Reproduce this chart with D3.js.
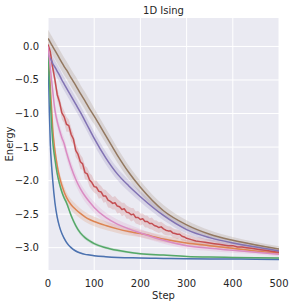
<!DOCTYPE html>
<html>
<head>
<meta charset="utf-8">
<script src="https://cdn.jsdelivr.net/npm/d3@7"></script>
<style>
  body { margin: 0; background: #fff; }
  text { font-family: "DejaVu Sans", sans-serif; fill: #262626; }
</style>
</head>
<body>
<svg width="292" height="307"></svg>
<script>
// shared step grid for the smooth runs
var steps = [0, 3, 5, 8, 10, 15, 20, 25, 30, 35, 40, 50, 60, 70, 80, 90, 100, 125, 150, 175, 200, 250, 300, 350, 400, 450, 500];

var blue   = [0, -1.0, -1.45, -1.80, -1.98, -2.33, -2.55, -2.69, -2.79, -2.86, -2.92, -3.00, -3.05, -3.08, -3.10, -3.11, -3.12, -3.135, -3.145, -3.15, -3.155, -3.16, -3.165, -3.168, -3.17, -3.172, -3.175];
var orange = [0, -0.38, -0.6, -0.95, -1.2, -1.55, -1.78, -1.95, -2.07, -2.17, -2.25, -2.36, -2.43, -2.49, -2.54, -2.58, -2.61, -2.67, -2.72, -2.76, -2.79, -2.87, -2.93, -2.97, -3.01, -3.05, -3.08];
var green  = [0, -0.5, -0.8, -1.2, -1.4, -1.68, -1.90, -2.05, -2.17, -2.26, -2.33, -2.52, -2.67, -2.78, -2.85, -2.90, -2.94, -3.00, -3.04, -3.07, -3.09, -3.11, -3.13, -3.14, -3.145, -3.15, -3.155];
var purple = [-0.12, -0.16, -0.18, -0.22, -0.25, -0.31, -0.37, -0.43, -0.50, -0.56, -0.62, -0.74, -0.86, -0.98, -1.11, -1.24, -1.37, -1.66, -1.90, -2.08, -2.24, -2.52, -2.73, -2.85, -2.93, -2.99, -3.05];
var brown  = [0.12, 0.085, 0.06, 0.025, 0.0, -0.06, -0.12, -0.18, -0.24, -0.30, -0.35, -0.47, -0.58, -0.70, -0.81, -0.93, -1.04, -1.33, -1.62, -1.88, -2.10, -2.45, -2.66, -2.80, -2.89, -2.96, -3.02];
var pink   = [0, -0.18, -0.32, -0.52, -0.65, -0.95, -1.12, -1.25, -1.36, -1.45, -1.58, -1.80, -1.98, -2.12, -2.23, -2.32, -2.40, -2.55, -2.65, -2.72, -2.78, -2.89, -2.97, -3.01, -3.04, -3.07, -3.10];

// half widths of the shaded bands
var blueBand   = [0.02, 0.03, 0.03, 0.03, 0.03, 0.03, 0.025, 0.02, 0.02, 0.02, 0.02, 0.015, 0.015, 0.012, 0.01, 0.01, 0.01, 0.01, 0.008, 0.008, 0.008, 0.008, 0.008, 0.008, 0.008, 0.008, 0.008];
var orangeBand = [0.02, 0.05, 0.06, 0.07, 0.08, 0.08, 0.08, 0.08, 0.08, 0.08, 0.08, 0.08, 0.08, 0.075, 0.075, 0.07, 0.07, 0.065, 0.06, 0.06, 0.055, 0.05, 0.045, 0.04, 0.035, 0.03, 0.03];
var greenBand  = [0.02, 0.03, 0.035, 0.035, 0.035, 0.035, 0.035, 0.035, 0.035, 0.035, 0.035, 0.035, 0.035, 0.03, 0.03, 0.025, 0.025, 0.02, 0.02, 0.015, 0.015, 0.012, 0.01, 0.01, 0.01, 0.01, 0.01];
var purpleBand = [0.1, 0.1, 0.1, 0.1, 0.1, 0.1, 0.1, 0.1, 0.1, 0.1, 0.1, 0.1, 0.1, 0.1, 0.1, 0.1, 0.1, 0.095, 0.09, 0.085, 0.08, 0.07, 0.06, 0.05, 0.045, 0.04, 0.035];
var brownBand  = [0.13, 0.13, 0.13, 0.13, 0.13, 0.13, 0.13, 0.13, 0.13, 0.13, 0.13, 0.13, 0.13, 0.13, 0.13, 0.13, 0.12, 0.115, 0.11, 0.1, 0.095, 0.085, 0.07, 0.06, 0.05, 0.045, 0.04];
var pinkBand   = [0.04, 0.06, 0.07, 0.08, 0.09, 0.09, 0.09, 0.09, 0.09, 0.09, 0.09, 0.09, 0.09, 0.085, 0.085, 0.08, 0.08, 0.075, 0.07, 0.065, 0.06, 0.05, 0.045, 0.04, 0.035, 0.03, 0.03];

// the red run is noisy, so it gets its own denser steps
var redSteps = [0, 5, 10, 15, 20, 25, 30, 35, 40, 45, 50, 55, 60, 65, 70, 75, 80, 85, 90, 95,
  100, 105, 110, 115, 120, 125, 130, 135, 140, 145, 150, 155, 160, 165, 170, 175, 180, 185, 190, 195,
  200, 205, 210, 215, 220, 225, 230, 235, 240, 245, 250, 255, 260, 265, 270, 275, 280, 285, 290, 295,
  300, 310, 320, 330, 340, 350, 360, 370, 380, 390, 400, 410, 420, 430, 440, 450, 460, 470, 480, 490, 500];
var red = [0.03, -0.08, -0.31, -0.50, -0.72, -0.83, -0.99, -1.05, -1.16, -1.18, -1.31, -1.38, -1.55, -1.61, -1.72, -1.75, -1.88, -1.90, -1.99, -2.03,
  -2.09, -2.10, -2.16, -2.17, -2.23, -2.23, -2.29, -2.31, -2.34, -2.33, -2.38, -2.39, -2.43, -2.42, -2.47, -2.48, -2.51, -2.50, -2.55, -2.55,
  -2.58, -2.57, -2.61, -2.61, -2.64, -2.64, -2.67, -2.68, -2.70, -2.69, -2.72, -2.74, -2.75, -2.75, -2.78, -2.79, -2.80, -2.80, -2.83, -2.84,
  -2.86, -2.88, -2.90, -2.91, -2.92, -2.93, -2.94, -2.95, -2.96, -2.97, -2.97, -2.99, -2.99, -3.00, -3.01, -3.02, -3.03, -3.04, -3.05, -3.06, -3.07];
var redBand = [0.04, 0.05, 0.07, 0.08, 0.09, 0.08, 0.1, 0.09, 0.11, 0.09, 0.1, 0.08, 0.1, 0.09, 0.11, 0.09, 0.1, 0.09, 0.1, 0.11, 0.09, 0.1, 0.11, 0.09, 0.1, 0.09, 0.11, 0.1, 0.09, 0.1, 0.11, 0.09, 0.1, 0.09, 0.1, 0.09, 0.1, 0.09, 0.09, 0.1, 0.09, 0.08, 0.09, 0.09, 0.08, 0.09, 0.08, 0.085, 0.08, 0.075, 0.08, 0.075, 0.07, 0.065, 0.07, 0.065, 0.07, 0.06, 0.065, 0.06, 0.06, 0.06, 0.055, 0.06, 0.05, 0.055, 0.05, 0.05, 0.045, 0.05, 0.045, 0.045, 0.04, 0.045, 0.04, 0.04, 0.04, 0.035, 0.04, 0.035, 0.035];

var xTicks = [0, 100, 200, 300, 400, 500];
var yTicks = [-3.0, -2.5, -2.0, -1.5, -1.0, -0.5, 0.0];

var series = [
  { x: steps, y: blue, band: blueBand, color: '#4C72B0', smooth: true },
  { x: steps, y: orange, band: orangeBand, color: '#DD8452', smooth: true },
  { x: steps, y: green, band: greenBand, color: '#55A868', smooth: true },
  { x: redSteps, y: red, band: redBand, color: '#C44E52', smooth: false },
  { x: steps, y: purple, band: purpleBand, color: '#8172B3', smooth: true },
  { x: steps, y: brown, band: brownBand, color: '#937860', smooth: true },
  { x: steps, y: pink, band: pinkBand, color: '#DA8BC3', smooth: true }
];

var svg = d3.select('svg'),
    w = +svg.attr('width'),
    h = +svg.attr('height'),
    m = { top: 18, right: 13, bottom: 37, left: 48 },
    iw = w - m.left - m.right,
    ih = h - m.top - m.bottom;

var x = d3.scaleLinear().domain([0, 500]).range([0, iw]),
    y = d3.scaleLinear().domain([-3.333, 0.424]).range([ih, 0]);

var g = svg.append('g').attr('transform', 'translate(' + m.left + ',' + m.top + ')');

g.append('rect').attr('width', iw).attr('height', ih).attr('fill', '#EAEAF2');

g.append('clipPath').attr('id', 'clip')
  .append('rect').attr('width', iw).attr('height', ih);

// grid
g.selectAll('.gx').data(xTicks).enter().append('line')
  .attr('x1', function(d) { return x(d); }).attr('x2', function(d) { return x(d); })
  .attr('y1', 0).attr('y2', ih)
  .attr('stroke', '#fff').attr('stroke-width', 1);
g.selectAll('.gy').data(yTicks).enter().append('line')
  .attr('y1', function(d) { return y(d); }).attr('y2', function(d) { return y(d); })
  .attr('x1', 0).attr('x2', iw)
  .attr('stroke', '#fff').attr('stroke-width', 1);

var plot = g.append('g').attr('clip-path', 'url(#clip)');

function pts(s) {
  return s.x.map(function(v, i) { return { s: v, e: s.y[i], b: s.band[i] }; });
}

// bands under all lines, like matplotlib
series.forEach(function(s) {
  var area = d3.area()
    .x(function(d) { return x(d.s); })
    .y0(function(d) { return y(d.e - d.b); })
    .y1(function(d) { return y(d.e + d.b); })
    .curve(s.smooth ? d3.curveMonotoneX : d3.curveLinear);
  plot.append('path').datum(pts(s))
    .attr('d', area)
    .attr('fill', s.color).attr('fill-opacity', 0.2);
});

series.forEach(function(s) {
  var line = d3.line()
    .x(function(d) { return x(d.s); })
    .y(function(d) { return y(d.e); })
    .curve(s.smooth ? d3.curveMonotoneX : d3.curveLinear);
  plot.append('path').datum(pts(s))
    .attr('d', line)
    .attr('fill', 'none').attr('stroke', s.color)
    .attr('stroke-width', 1.5).attr('stroke-linejoin', 'round');
});

// tick labels
var fmt = function(d) { return d3.format('.1f')(d).replace('-', '\u2212'); };
g.selectAll('.ty').data(yTicks).enter().append('text')
  .attr('x', -9).attr('y', function(d) { return y(d); })
  .attr('dy', '0.35em').attr('text-anchor', 'end')
  .style('font-size', '10px')
  .text(fmt);
g.selectAll('.tx').data(xTicks).enter().append('text')
  .attr('x', function(d) { return x(d); }).attr('y', ih + 17)
  .attr('text-anchor', 'middle')
  .style('font-size', '10px')
  .text(function(d) { return d; });

svg.append('text')
  .attr('x', m.left + iw / 2).attr('y', 14)
  .attr('text-anchor', 'middle').style('font-size', '10px')
  .text('1D Ising');
svg.append('text')
  .attr('x', m.left + iw / 2).attr('y', 299)
  .attr('text-anchor', 'middle').style('font-size', '10px')
  .text('Step');
svg.append('text')
  .attr('transform', 'translate(13,' + (m.top + ih / 2) + ') rotate(-90)')
  .attr('text-anchor', 'middle').style('font-size', '10px')
  .text('Energy');
</script>
</body>
</html>
